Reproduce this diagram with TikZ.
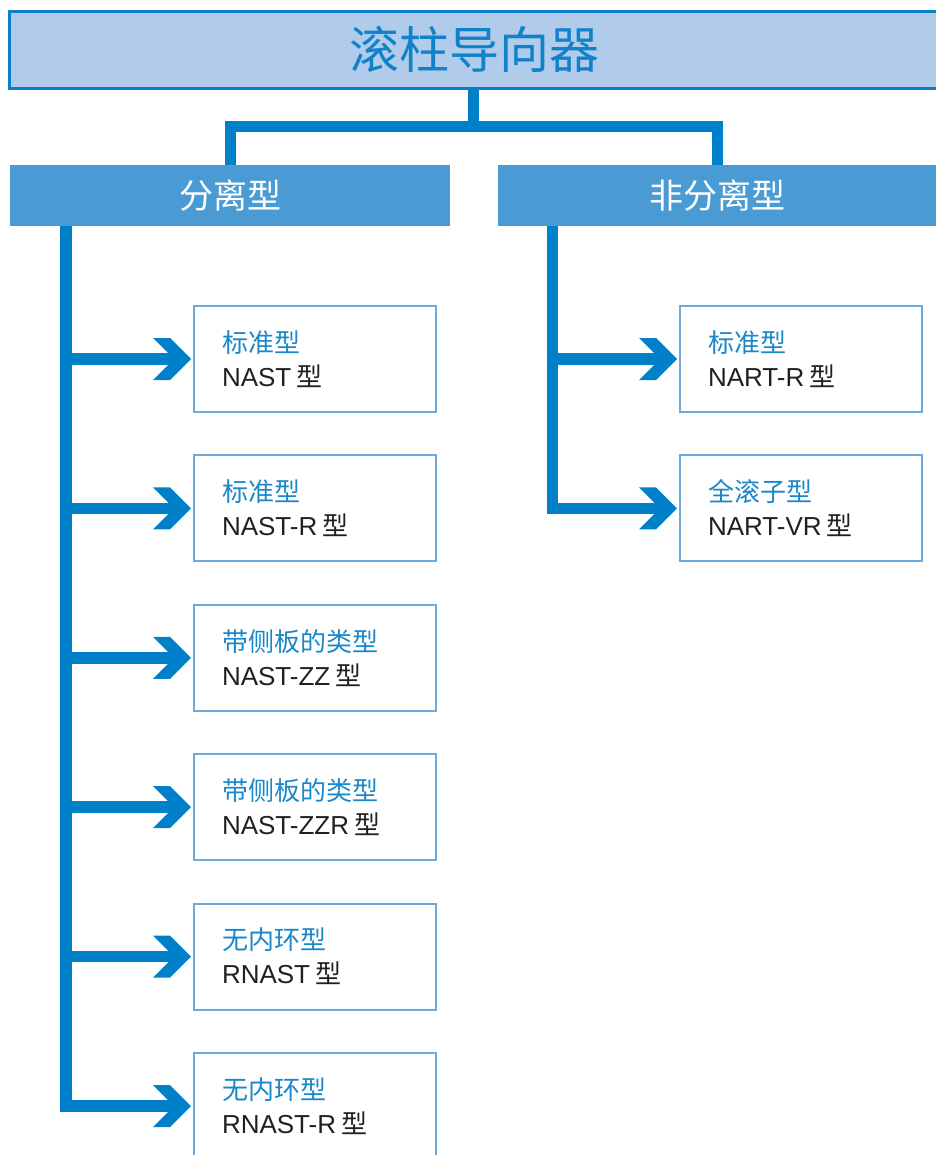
\documentclass[tikz,border=0pt]{standalone}
\usepackage{fontspec}
\setmainfont{Liberation Sans}
\newfontfamily\cjk{Noto Sans CJK SC}
\definecolor{connblue}{RGB}{0,128,200}
\definecolor{titlefill}{RGB}{176,204,234}
\definecolor{titleline}{RGB}{10,128,200}
\definecolor{titletext}{RGB}{16,130,202}
\definecolor{catfill}{RGB}{74,155,212}
\definecolor{boxline}{RGB}{111,170,223}
\definecolor{labelblue}{RGB}{27,135,203}
\definecolor{darktext}{RGB}{35,31,32}
\newcommand\chev[1]{\fill[connblue] ([xshift=-1.5pt]#1.west) -- ++(-21,-21) -- ++(-17,0) -- ++(21,21) -- ++(-21,21) -- ++(17,0) -- cycle;}
\newcommand\xing{\hspace{0.2em}{\cjk 型}}
\begin{document}
\begin{tikzpicture}[x=0.75pt,y=-0.75pt,
  titlebox/.style={draw=titleline, line width=1.9pt, fill=titlefill, anchor=north west,
    minimum width=705pt, minimum height=57.75pt, inner sep=0pt, text=titletext,
    font=\cjk\fontsize{37.5}{40}\selectfont},
  catbox/.style={fill=catfill, anchor=north west, minimum height=45.75pt, inner sep=0pt,
    text=white, font=\cjk\fontsize{25.5}{28}\selectfont},
  itembox/.style={draw=boxline, line width=1.5pt, fill=white, anchor=north west,
    text width=139.5pt, align=left, inner xsep=21pt, inner ysep=0pt,
    minimum height=79.5pt, text=darktext, font=\fontsize{19.5}{25.5}\selectfont},
  conn/.style={draw=connblue, line width=8.6pt, line join=miter}
]
\useasboundingbox (0,0) rectangle (935,1155);

% title
\node[titlebox] (title) at (8,10) {\kern-6.75pt滚柱导向器};

% categories
\node[catbox, minimum width=330pt] (sep) at (10,165) {分离型};
\node[catbox, minimum width=328.5pt] (nonsep) at (498,165) {非分离型};

% left items
\node[itembox] (b1) at (193,305) {{\color{labelblue}\cjk 标准型}\\NAST\xing};
\node[itembox] (b2) at (193,454.4) {{\color{labelblue}\cjk 标准型}\\NAST-R\xing};
\node[itembox] (b3) at (193,603.8) {{\color{labelblue}\cjk 带侧板的类型}\\NAST-ZZ\xing};
\node[itembox] (b4) at (193,753.2) {{\color{labelblue}\cjk 带侧板的类型}\\NAST-ZZR\xing};
\node[itembox] (b5) at (193,902.6) {{\color{labelblue}\cjk 无内环型}\\RNAST\xing};
\node[itembox] (b6) at (193,1052) {{\color{labelblue}\cjk 无内环型}\\RNAST-R\xing};

% right items
\node[itembox] (r1) at (679,305) {{\color{labelblue}\cjk 标准型}\\NART-R\xing};
\node[itembox] (r2) at (679,454.4) {{\color{labelblue}\cjk 全滚子型}\\NART-VR\xing};

% top connectors
\coordinate (j) at (473.5,126.5);
\draw[conn] (title.south -| j) -- (j);
\draw[conn] (sep.north) |- (j) -| (nonsep.north);

% left trunk
\coordinate (tl) at (66,226);
\draw[conn] (tl) |- ([xshift=-9pt]b6.west);
\foreach \b in {b1,b2,b3,b4,b5}{
  \draw[conn] (tl |- \b.west) -- ([xshift=-9pt]\b.west);
}
\foreach \b in {b1,b2,b3,b4,b5,b6}{ \chev{\b} }

% right trunk
\coordinate (tr) at (552.5,226);
\draw[conn] (tr) |- ([xshift=-9pt]r2.west);
\draw[conn] (tr |- r1.west) -- ([xshift=-9pt]r1.west);
\foreach \b in {r1,r2}{ \chev{\b} }
\end{tikzpicture}
\end{document}
